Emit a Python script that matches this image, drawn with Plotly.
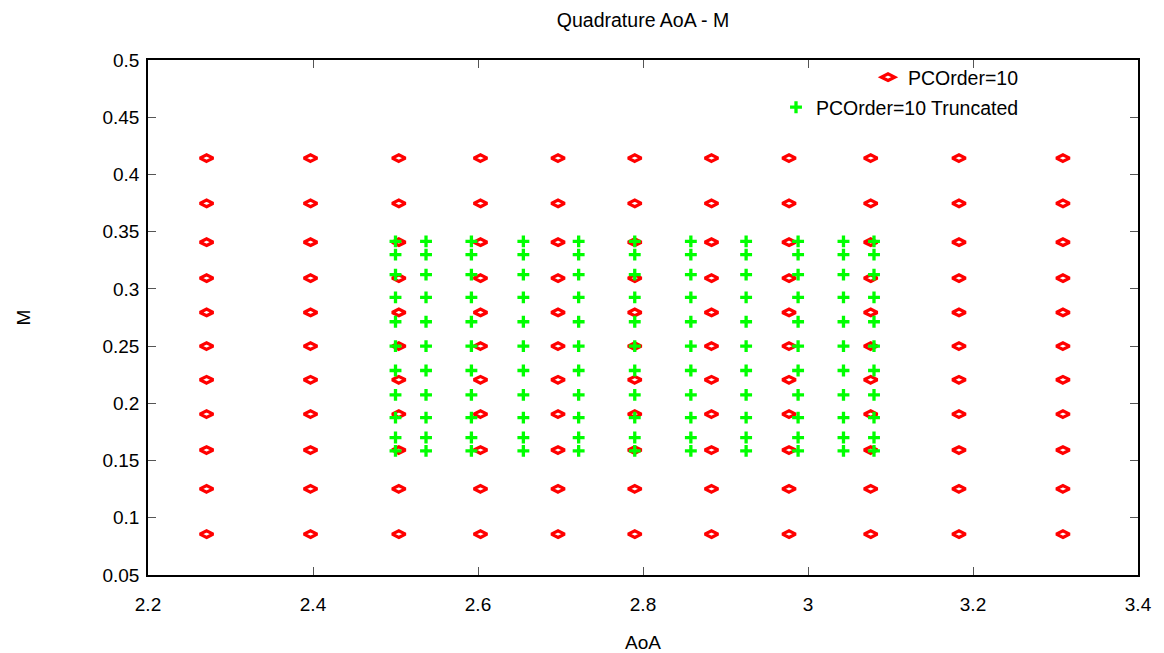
import plotly.graph_objects as go

# ---- data ----
full_aoa = [2.271, 2.397, 2.504, 2.603, 2.697, 2.790, 2.883, 2.977, 3.076, 3.183, 3.309]
full_m = [0.0857, 0.1253, 0.1592, 0.1906, 0.2206, 0.2500, 0.2794, 0.3094, 0.3408, 0.3747, 0.4143]

trunc_aoa = [2.500, 2.537, 2.592, 2.655, 2.722, 2.790, 2.858, 2.925, 2.988, 3.043, 3.080]
trunc_m = [0.1585, 0.1701, 0.1875, 0.2074, 0.2287, 0.2500, 0.2713, 0.2926, 0.3125, 0.3299, 0.3415]

x_ticks = [2.2, 2.4, 2.6, 2.8, 3.0, 3.2, 3.4]
x_tick_text = ["2.2", "2.4", "2.6", "2.8", "3", "3.2", "3.4"]
y_ticks = [0.05, 0.1, 0.15, 0.2, 0.25, 0.3, 0.35, 0.4, 0.45, 0.5]
y_tick_text = ["0.05", "0.1", "0.15", "0.2", "0.25", "0.3", "0.35", "0.4", "0.45", "0.5"]

series_names = ["PCOrder=10", "PCOrder=10 Truncated"]

# tensor grids
fx = [a for a in full_aoa for _ in full_m]
fy = [m for _ in full_aoa for m in full_m]
tx = [a for a in trunc_aoa for _ in trunc_m]
ty = [m for _ in trunc_aoa for m in trunc_m]

FONT = "Liberation Sans, Arial, sans-serif"

# the page body has an 8px default margin, so the figure is 8px smaller
W, H = 1156, 645
PLOT_W, PLOT_H = 990, 515

fig = go.Figure()
fig.add_trace(go.Scatter(
    x=fx, y=fy, mode="markers", name=series_names[0], legend="legend",
    marker=dict(symbol="diamond-wide-open", size=9.5, color="#ff0000",
                line=dict(color="#ff0000", width=3.2)),
))
fig.add_trace(go.Scatter(
    x=tx, y=ty, mode="markers", name=series_names[1], legend="legend2",
    marker=dict(symbol="cross-thin-open", size=8.5, color="#00ff00",
                line=dict(color="#00ff00", width=3.3)),
))

axis_common = dict(
    showline=True, linecolor="black", linewidth=1.5, mirror="ticks",
    ticks="inside", ticklen=8, tickcolor="#555555", tickwidth=1,
    showgrid=False, zeroline=False, automargin=False,
    tickfont=dict(family=FONT, size=19, color="black"),
)

legend_common = dict(
    xanchor="right", yanchor="top", x=(1024 - 148) / PLOT_W,
    bgcolor="rgba(0,0,0,0)", borderwidth=0,
    font=dict(family=FONT, size=19.5, color="black"),
)

fig.update_layout(
    width=W, height=H,
    margin=dict(l=140, r=26, t=52, b=78),
    paper_bgcolor="white", plot_bgcolor="white",
    font=dict(family=FONT, size=19, color="black"),
    title=dict(text="Quadrature AoA - M", x=0.5, xref="paper", xanchor="center",
               y=1 - 12 / H, yref="container", yanchor="middle",
               font=dict(family=FONT, size=19.5, color="black")),
    xaxis=dict(range=[2.2, 3.4], tickvals=x_ticks, ticktext=x_tick_text,
               ticklabelstandoff=11,
               title=dict(text="AoA", standoff=25, font=dict(family=FONT, size=19)),
               **axis_common),
    yaxis=dict(range=[0.05, 0.5], tickvals=y_ticks, ticktext=y_tick_text,
               ticklabelstandoff=3,
               title=dict(text="M", standoff=67, font=dict(family=FONT, size=19)),
               **axis_common),
    legend=dict(y=1 + 2 / PLOT_H, **legend_common),
    legend2=dict(y=1 + 2 / PLOT_H - 30 / PLOT_H, **legend_common),
    showlegend=True,
)

fig.write_html("out.html")
